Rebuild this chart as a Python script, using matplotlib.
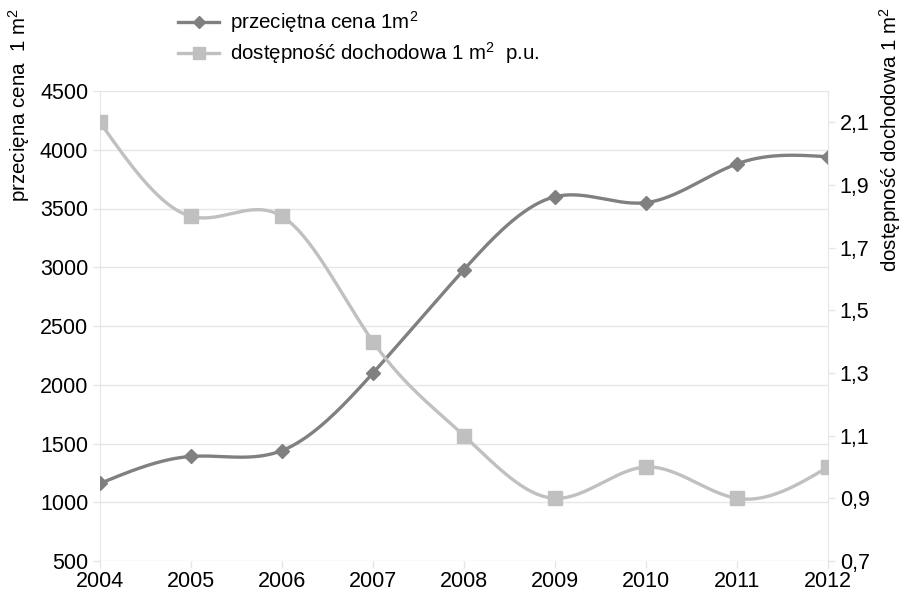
import numpy as np
import matplotlib
matplotlib.use("Agg")
import matplotlib.pyplot as plt
from matplotlib.lines import Line2D
from matplotlib.ticker import FuncFormatter

years = [2004, 2005, 2006, 2007, 2008, 2009, 2010, 2011, 2012]
price = [1160, 1390, 1440, 2100, 2980, 3600, 3550, 3880, 3940]
afford = [2.1, 1.8, 1.8, 1.4, 1.1, 0.9, 1.0, 0.9, 1.0]
label_price = "przeciętna cena 1m$^2$"
label_afford = "dostępność dochodowa 1 m$^2$  p.u."

plt.rcParams['font.family'] = ['Liberation Sans', 'DejaVu Sans']
plt.rcParams['mathtext.fontset'] = 'custom'
plt.rcParams['mathtext.rm'] = 'Liberation Sans'
plt.rcParams['mathtext.it'] = 'Liberation Sans'

FS = 15.5
FL = 14.8


def natural_spline(x, y, n=400):
    x = np.asarray(x, float)
    y = np.asarray(y, float)
    k = len(x)
    h = np.diff(x)
    A = np.zeros((k, k))
    b = np.zeros(k)
    A[0, 0] = 1
    A[-1, -1] = 1
    for i in range(1, k - 1):
        A[i, i - 1] = h[i - 1]
        A[i, i] = 2 * (h[i - 1] + h[i])
        A[i, i + 1] = h[i]
        b[i] = 3 * ((y[i + 1] - y[i]) / h[i] - (y[i] - y[i - 1]) / h[i - 1])
    c = np.linalg.solve(A, b)
    xs = np.linspace(x[0], x[-1], n)
    ys = np.empty_like(xs)
    for j, xv in enumerate(xs):
        i = min(np.searchsorted(x, xv, side='right') - 1, k - 2)
        dx = xv - x[i]
        bi = (y[i + 1] - y[i]) / h[i] - h[i] * (2 * c[i] + c[i + 1]) / 3
        di = (c[i + 1] - c[i]) / (3 * h[i])
        ys[j] = y[i] + bi * dx + c[i] * dx ** 2 + di * dx ** 3
    return xs, ys


W, H = 903, 596
fig = plt.figure(figsize=(W / 100, H / 100), dpi=100)
ax = fig.add_axes([100 / W, 35 / H, 728 / W, 470 / H])
ax2 = ax.twinx()

c_price = '#808080'
c_aff = '#c0c0c0'
grid_c = '#e6e6e6'

xs, ys = natural_spline(years, price)
ax.plot(xs, ys, color=c_price, lw=2.4, zorder=3)
ax.plot(years, price, ls='none', marker='D', ms=7, color=c_price, zorder=4)

xs2, ys2 = natural_spline(years, afford)
ax2.plot(xs2, ys2, color=c_aff, lw=2.4, zorder=3)
ax2.plot(years, afford, ls='none', marker='s', ms=10, color=c_aff, zorder=4)

ax.set_xlim(2004, 2012)
ax.set_ylim(500, 4500)
ax.set_yticks(range(500, 4501, 500))
ax.set_xticks(years)
ax2.set_ylim(0.7, 2.2)
ax2.set_yticks([0.7, 0.9, 1.1, 1.3, 1.5, 1.7, 1.9, 2.1])
ax2.yaxis.set_major_formatter(FuncFormatter(lambda v, p: f"{v:.1f}".replace('.', ',')))

ax.grid(axis='y', color=grid_c, lw=1)
ax.set_axisbelow(True)
for a in (ax, ax2):
    for s in a.spines.values():
        s.set_visible(False)
    a.tick_params(colors=grid_c, labelcolor='black', labelsize=FS, length=5, width=1)
ax.spines['left'].set_visible(True)
ax.spines['left'].set_color(grid_c)
ax2.spines['right'].set_visible(True)
ax2.spines['right'].set_color(grid_c)
ax.tick_params(axis='x', pad=2)

fig.text(19 / W, 1 - 8 / H, "przecięna cena  1 m$^2$", rotation=90,
         ha='center', va='top', fontsize=FL)
fig.text(890 / W, 1 - 7 / H, "dostępność dochodowa 1 m$^2$", rotation=90,
         ha='center', va='top', fontsize=FL)

handles = [Line2D([], [], color=c_price, lw=2.4, marker='D', ms=6),
           Line2D([], [], color=c_aff, lw=2.4, marker='s', ms=8)]
fig.legend(handles, [label_price, label_afford], loc='upper left',
           bbox_to_anchor=(164 / W, 1.0 + 5 / H), frameon=False, fontsize=FL,
           handlelength=2.0, handletextpad=0.5, labelspacing=0.25, borderaxespad=0.3)

fig.savefig('out.png', dpi=100)
